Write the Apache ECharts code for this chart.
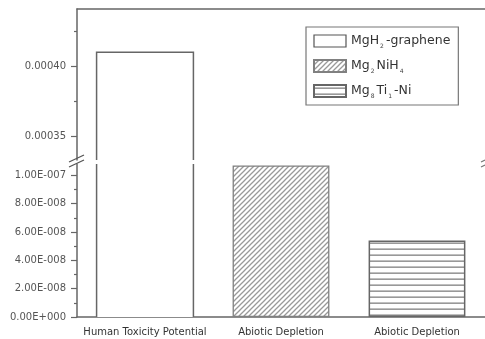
<!DOCTYPE html>
<html>
<head>
<meta charset="utf-8">
<script src="https://cdn.jsdelivr.net/npm/echarts@6/dist/echarts.min.js"></script>
<style>html,body{margin:0;padding:0;background:#fff;}#c{width:485px;height:339px;}</style>
</head>
<body>
<div id="c"></div>
<script>
const categories = ['Human Toxicity Potential', 'Abiotic Depletion', 'Abiotic Depletion'];
const seriesNames = ['MgH2-graphene', 'Mg2NiH4', 'Mg8Ti1-Ni'];
const legendLabels = ['MgH{sub|2}-graphene', 'Mg{sub|2}NiH{sub|4}', 'Mg{sub|8}Ti{sub|1}-Ni'];
const htpValues = [0.00041, null, null];
const mg2nih4Values = [null, 1.07e-7, null];
const mgTiNiValues = [null, null, 5.4e-8];
const topTicks = [0.00035, 0.00040];
const topTickLabels = ['0.00035', '0.00040'];
const topMinorTicks = [0.000375, 0.000425];
const bottomTicks = [0, 2e-8, 4e-8, 6e-8, 8e-8, 1e-7];
const bottomTickLabels = ['0.00E+000', '2.00E-008', '4.00E-008', '6.00E-008', '8.00E-008', '1.00E-007'];
const bottomMinorTicks = [1e-8, 3e-8, 5e-8, 7e-8, 9e-8];

function pattern(kind) {
  const c = document.createElement('canvas');
  const ctx = c.getContext('2d');
  if (kind === 'diag') {
    const s = 5; c.width = s; c.height = s;
    ctx.fillStyle = '#fff'; ctx.fillRect(0, 0, s, s);
    ctx.strokeStyle = '#999'; ctx.lineWidth = 1.3;
    ctx.beginPath();
    ctx.moveTo(-1, s + 1); ctx.lineTo(s + 1, -1);
    ctx.moveTo(-1, 1); ctx.lineTo(1, -1);
    ctx.moveTo(s - 1, s + 1); ctx.lineTo(s + 1, s - 1);
    ctx.stroke();
  } else {
    c.width = 4; c.height = 6;
    ctx.fillStyle = '#fff'; ctx.fillRect(0, 0, 4, 6);
    ctx.fillStyle = '#808080'; ctx.fillRect(0, 2.5, 4, 1.3);
  }
  return { image: c, repeat: 'repeat' };
}

function lookup(ticks, labels) {
  return function (v) {
    for (let i = 0; i < ticks.length; i++) {
      if (Math.abs(ticks[i] - v) <= Math.abs(ticks[i]) * 1e-6 + 1e-15) return labels[i];
    }
    return '';
  };
}

const BW = 0.712;
function renderHTP(params, api) {
  const cat = api.value(0), v = api.value(1);
  const top = api.coord([cat, v]);
  const base = api.coord([cat, 0]);
  const w = api.size([1, 0])[0] * BW;
  const cs = params.coordSys;
  const yTop = Math.max(top[1], cs.y);
  const yBot = Math.min(base[1], cs.y + cs.height);
  const x0 = top[0] - w / 2, x1 = top[0] + w / 2;
  const children = [{ type: 'rect', shape: { x: x0, y: yTop, width: w, height: yBot - yTop }, style: { fill: '#fff' } }];
  if (top[1] >= cs.y) {
    children.push({ type: 'polyline', shape: { points: [[x0, yBot], [x0, yTop], [x1, yTop], [x1, yBot]] }, style: { stroke: '#666', lineWidth: 1.5, fill: null } });
  } else {
    children.push({ type: 'line', shape: { x1: x0, y1: yTop, x2: x0, y2: yBot }, style: { stroke: '#666', lineWidth: 1.5 } });
    children.push({ type: 'line', shape: { x1: x1, y1: yTop, x2: x1, y2: yBot }, style: { stroke: '#666', lineWidth: 1.5 } });
  }
  return { type: 'group', children: children };
}

const htpData = htpValues.map((v, i) => v == null ? null : [i, v]).filter(d => d);
const axisCol = '#666';
const FONT = 'DejaVu Sans, Liberation Sans, sans-serif';
const labelFont = { fontFamily: FONT, fontSize: 10, color: '#555' };

function yAxes(gridIndex, min, max, ticks, labels, minor) {
  return [
    {
      type: 'value', gridIndex: gridIndex, min: min, max: max, position: 'left',
      splitLine: { show: false },
      axisLine: { show: true, lineStyle: { color: axisCol, width: 1.5 } },
      axisTick: { show: true, length: 6, customValues: ticks, lineStyle: { color: axisCol, width: 1.2 } },
      axisLabel: Object.assign({ customValues: ticks, margin: 11, formatter: lookup(ticks, labels) }, labelFont)
    },
    {
      type: 'value', gridIndex: gridIndex, min: min, max: max, position: 'left', offset: 0,
      splitLine: { show: false },
      axisLine: { show: false },
      axisTick: { show: true, length: 3, customValues: minor, lineStyle: { color: axisCol, width: 1.2 } },
      axisLabel: { show: false }
    }
  ];
}

const chart = echarts.init(document.getElementById('c'), null, { renderer: 'canvas' });
const diag = pattern('diag');
const horiz = pattern('horiz');

chart.setOption({
  animation: false,
  backgroundColor: '#fff',
  grid: [
    { left: 77, width: 409, top: 9, height: 151 },
    { left: 77, width: 409, top: 164, height: 153 }
  ],
  xAxis: [
    { type: 'category', gridIndex: 0, data: categories, position: 'top',
      axisLine: { show: true, lineStyle: { color: axisCol, width: 1.5 } }, axisTick: { show: false }, axisLabel: { show: false } },
    { type: 'category', gridIndex: 1, data: categories, position: 'bottom',
      axisLine: { show: true, lineStyle: { color: axisCol, width: 1.5 } }, axisTick: { show: false },
      axisLabel: { interval: 0, margin: 10, fontFamily: FONT, fontSize: 10, color: '#333' } }
  ],
  yAxis: yAxes(0, 0.000333, 0.000441, topTicks, topTickLabels, topMinorTicks)
    .concat(yAxes(1, 0, 1.08e-7, bottomTicks, bottomTickLabels, bottomMinorTicks)),
  legend: {
    orient: 'vertical', left: 306, top: 27,
    padding: [6, 8, 6, 7], itemGap: 9, itemWidth: 32, itemHeight: 12,
    borderColor: '#777', borderWidth: 1.2, backgroundColor: '#fff',
    data: [
      { name: seriesNames[0], icon: 'rect', itemStyle: { color: '#fff', borderColor: '#555', borderWidth: 1.2 } },
      { name: seriesNames[1], icon: 'rect' },
      { name: seriesNames[2], icon: 'rect' }
    ],
    formatter: function (name) { return legendLabels[seriesNames.indexOf(name)]; },
    textStyle: {
      fontFamily: FONT, fontSize: 12.5, color: '#333', lineHeight: 14,
      rich: { sub: { fontFamily: FONT, fontSize: 6, color: '#444', padding: [10, 2, 0, 1], lineHeight: 14 } }
    }
  },
  series: [
    { name: seriesNames[0], type: 'custom', xAxisIndex: 0, yAxisIndex: 0, renderItem: renderHTP, data: htpData, encode: { x: 0, y: 1 }, z: 3 },
    { name: seriesNames[0], type: 'custom', xAxisIndex: 1, yAxisIndex: 2, renderItem: renderHTP, data: htpData, encode: { x: 0, y: 1 }, z: 3 },
    { name: seriesNames[1], type: 'bar', xAxisIndex: 1, yAxisIndex: 2, stack: 'b', barWidth: '71.2%',
      data: mg2nih4Values.map(v => v == null ? '-' : v),
      itemStyle: { color: diag, borderColor: '#808080', borderWidth: 1.3 } },
    { name: seriesNames[2], type: 'bar', xAxisIndex: 1, yAxisIndex: 2, stack: 'b', barWidth: '71.2%',
      data: mgTiNiValues.map(v => v == null ? '-' : v),
      itemStyle: { color: horiz, borderColor: '#666', borderWidth: 1.5 } }
  ],
  graphic: [
    { type: 'line', shape: { x1: 69, y1: 162, x2: 84, y2: 155 }, style: { stroke: '#555', lineWidth: 1.3 }, z: 10 },
    { type: 'line', shape: { x1: 69, y1: 167, x2: 84, y2: 160 }, style: { stroke: '#555', lineWidth: 1.3 }, z: 10 },
    { type: 'line', shape: { x1: 481, y1: 162, x2: 485, y2: 160 }, style: { stroke: '#777', lineWidth: 1.2 }, z: 10 },
    { type: 'line', shape: { x1: 481, y1: 167, x2: 485, y2: 165 }, style: { stroke: '#777', lineWidth: 1.2 }, z: 10 }
  ]
});
</script>
</body>
</html>
